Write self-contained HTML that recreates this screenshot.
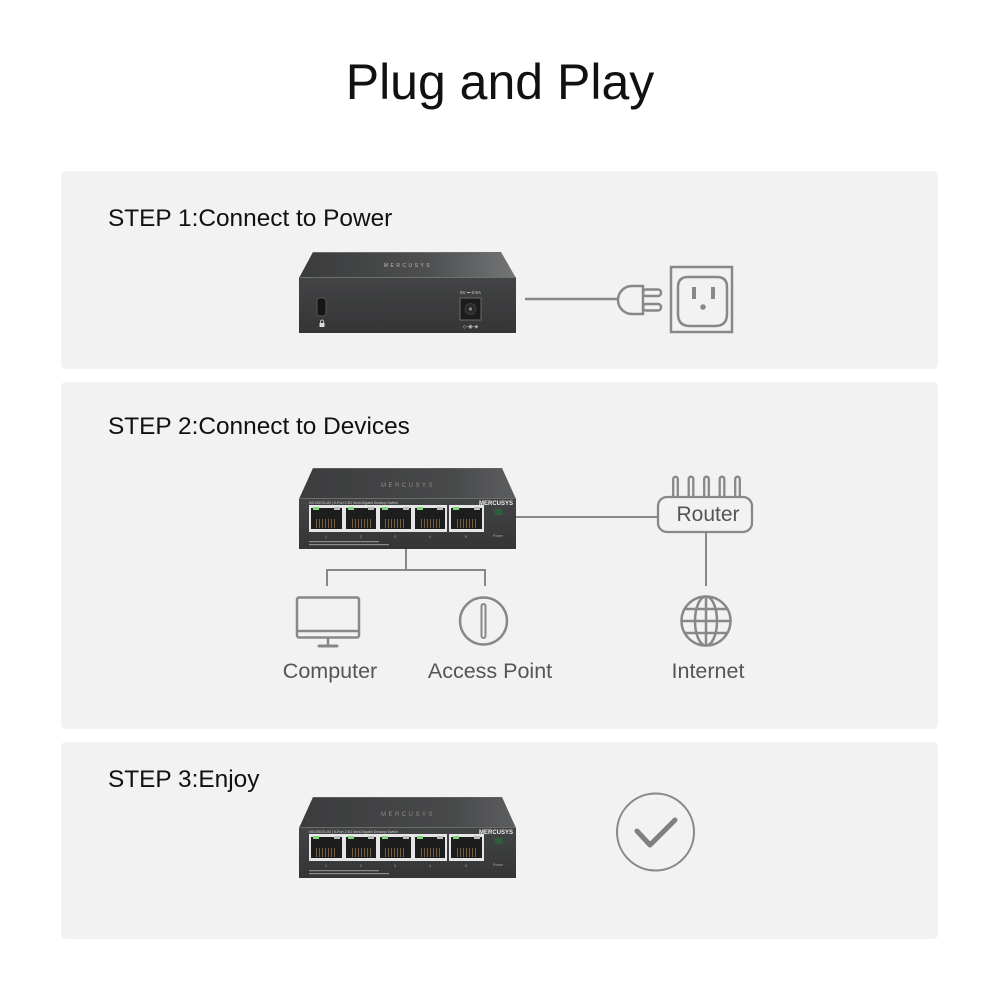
<!DOCTYPE html>
<html><head><meta charset="utf-8"><style>
html,body{margin:0;padding:0;background:#fff;}
svg{display:block;}
text{font-family:"Liberation Sans",Arial,sans-serif;}
</style></head><body>
<svg width="1000" height="1000" viewBox="0 0 1000 1000" xmlns="http://www.w3.org/2000/svg">
<defs>
<linearGradient id="topg" x1="0" y1="0" x2="1" y2="0">
<stop offset="0" stop-color="#3a3b3c"/><stop offset="0.6" stop-color="#4e4f50"/><stop offset="1" stop-color="#747576"/>
</linearGradient>
<linearGradient id="topf" x1="0" y1="0" x2="1" y2="0">
<stop offset="0" stop-color="#3b3c3d"/><stop offset="0.7" stop-color="#48494a"/><stop offset="1" stop-color="#5d5e5f"/>
</linearGradient>
<linearGradient id="frontg" x1="0" y1="0" x2="0" y2="1">
<stop offset="0" stop-color="#434445"/><stop offset="1" stop-color="#343536"/>
</linearGradient>
<pattern id="pins" x="0" y="0" width="3" height="10" patternUnits="userSpaceOnUse">
<rect x="0" y="0" width="3" height="10" fill="#1b1b1b"/><rect x="1" y="0" width="1" height="10" fill="#7a6040"/>
</pattern>
</defs>

<rect width="1000" height="1000" fill="#fff"/>
<text x="500" y="99" font-size="50" text-anchor="middle" fill="#111">Plug and Play</text>

<rect x="61" y="171" width="877" height="198" rx="5" fill="#f2f2f2"/>
<rect x="61" y="382" width="877" height="347" rx="5" fill="#f2f2f2"/>
<rect x="61" y="742" width="877" height="197" rx="5" fill="#f2f2f2"/>

<text x="108" y="226" font-size="24.4" fill="#111">STEP 1:Connect to Power</text>
<text x="108" y="434" font-size="24.4" fill="#111">STEP 2:Connect to Devices</text>
<text x="108" y="787" font-size="24.4" fill="#111">STEP 3:Enjoy</text>

<!-- STEP 1 rear switch -->
<polygon points="313,252 501,252 516,278 299,278" fill="url(#topg)"/>
<line x1="313" y1="252.5" x2="501" y2="252.5" stroke="#6a6b6c" stroke-width="1"/>
<line x1="299" y1="277.5" x2="516" y2="277.5" stroke="#6f7071" stroke-width="1"/>
<text x="408" y="267" font-size="5" fill="#bdbdbd" text-anchor="middle" letter-spacing="2.5">MERCUSYS</text>
<rect x="299" y="278" width="217" height="55" fill="url(#frontg)"/>
<rect x="317" y="298" width="9" height="18" rx="3" fill="#151515" stroke="#555" stroke-width="1"/>
<rect x="319.5" y="323" width="5" height="4" fill="#ddd"/>
<path d="M320.5 323 v-1.5 a1.5 1.5 0 0 1 3 0 v1.5" fill="none" stroke="#ddd" stroke-width="0.8"/>
<text x="470.5" y="294" font-size="4.5" fill="#d0d0d0" text-anchor="middle">5V ⎓ 0.6A</text>
<rect x="460" y="298" width="21" height="22" fill="#1c1c1c" stroke="#6a6a6a" stroke-width="1"/>
<circle cx="470.5" cy="309" r="5.5" fill="#2a2a2a" stroke="#3d3d3d" stroke-width="1"/>
<circle cx="470.5" cy="309" r="1.6" fill="#888"/>
<text x="470.5" y="328" font-size="5" fill="#d0d0d0" text-anchor="middle">◇-◉-◈</text>

<!-- cable, plug, outlet -->
<g fill="none" stroke="#888" stroke-width="2.5">
<line x1="525" y1="299" x2="619" y2="299"/>
<path d="M643 286 L632 286 A14 14 0 0 0 632 314 L643 314 Z" fill="#f2f2f2"/>
<rect x="643" y="289.5" width="18" height="6.5" rx="3"/>
<rect x="643" y="304" width="18" height="6.5" rx="3"/>
<rect x="671" y="267" width="61" height="65"/>
<path d="M688 277 L717 277 Q727 277 727 287 L727 314 Q727 326 715 326 L690 326 Q678 326 678 314 L678 287 Q678 277 688 277 Z"/>
</g>
<line x1="694" y1="287" x2="694" y2="299" stroke="#888" stroke-width="4"/>
<line x1="713" y1="287" x2="713" y2="299" stroke="#888" stroke-width="4"/>
<circle cx="703" cy="307" r="2.8" fill="#888"/>

<!-- STEP 2 switch front -->
<g>
<polygon points="313,468 502,468 516,499 299,499" fill="url(#topf)"/>
<line x1="313" y1="468.5" x2="502" y2="468.5" stroke="#5d5e5f" stroke-width="1"/>
<text x="408" y="487" font-size="6" fill="#8c8c8c" text-anchor="middle" letter-spacing="2.5">MERCUSYS</text>
<line x1="299" y1="498.5" x2="516" y2="498.5" stroke="#6a6b6c" stroke-width="1"/>
<rect x="299" y="499" width="217" height="50" fill="url(#frontg)"/>
<text x="309" y="504" font-size="3.5" fill="#ccc">MS105GS-M2 | 5-Port 2.5G Multi-Gigabit Desktop Switch</text>
<text x="513" y="505" font-size="6" font-weight="bold" fill="#eee" text-anchor="end">MERCUSYS</text>
<g>
<rect x="309" y="505" width="35" height="27" fill="#e6e6e6"/><rect x="311" y="508" width="31" height="21" fill="#1d1d1d"/><rect x="316" y="519" width="21" height="9" fill="url(#pins)"/><rect x="313" y="507" width="6" height="3" fill="#7fd67f"/><rect x="334" y="507" width="6" height="3" fill="#bbb"/>
<rect x="344" y="505" width="34" height="27" fill="#e6e6e6"/><rect x="346" y="508" width="30" height="21" fill="#1d1d1d"/><rect x="351" y="519" width="21" height="9" fill="url(#pins)"/><rect x="348" y="507" width="6" height="3" fill="#7fd67f"/><rect x="368" y="507" width="6" height="3" fill="#bbb"/>
<rect x="378" y="505" width="35" height="27" fill="#e6e6e6"/><rect x="380" y="508" width="31" height="21" fill="#1d1d1d"/><rect x="385" y="519" width="21" height="9" fill="url(#pins)"/><rect x="382" y="507" width="6" height="3" fill="#7fd67f"/><rect x="403" y="507" width="6" height="3" fill="#bbb"/>
<rect x="413" y="505" width="34" height="27" fill="#e6e6e6"/><rect x="415" y="508" width="30" height="21" fill="#1d1d1d"/><rect x="420" y="519" width="21" height="9" fill="url(#pins)"/><rect x="417" y="507" width="6" height="3" fill="#7fd67f"/><rect x="437" y="507" width="6" height="3" fill="#bbb"/>
<rect x="449" y="505" width="35" height="27" fill="#e6e6e6"/><rect x="451" y="508" width="31" height="21" fill="#1d1d1d"/><rect x="456" y="519" width="21" height="9" fill="url(#pins)"/><rect x="453" y="507" width="6" height="3" fill="#7fd67f"/><rect x="474" y="507" width="6" height="3" fill="#bbb"/>
</g>
<g font-size="3.5" fill="#aaa" text-anchor="middle">
<text x="326" y="538">1</text><text x="361" y="538">2</text><text x="395" y="538">3</text><text x="430" y="538">4</text><text x="466" y="538">5</text>
<text x="498" y="537">Power</text>
</g>
<rect x="494.5" y="509" width="8" height="6" fill="#2f5e3c"/>
<rect x="309" y="541" width="70" height="1.2" fill="#8a8a8a"/>
<rect x="309" y="544" width="80" height="1.2" fill="#8a8a8a"/>
</g>

<!-- STEP 2 connectors -->
<g fill="none" stroke="#888" stroke-width="2">
<line x1="516" y1="517" x2="658" y2="517"/>
<line x1="706" y1="533" x2="706" y2="586"/>
<line x1="406" y1="549" x2="406" y2="570"/>
<line x1="327" y1="570" x2="485" y2="570"/>
<line x1="327" y1="569" x2="327" y2="586"/>
<line x1="485" y1="569" x2="485" y2="586"/>
</g>
<!-- router -->
<g fill="none" stroke="#888" stroke-width="2.3">
<path d="M673.2 497 V479 a2.3 2.3 0 0 1 4.6 0 V497"/>
<path d="M688.7 497 V479 a2.3 2.3 0 0 1 4.6 0 V497"/>
<path d="M704.2 497 V479 a2.3 2.3 0 0 1 4.6 0 V497"/>
<path d="M719.7 497 V479 a2.3 2.3 0 0 1 4.6 0 V497"/>
<path d="M735.2 497 V479 a2.3 2.3 0 0 1 4.6 0 V497"/>
<rect x="658" y="497" width="94" height="35" rx="9" fill="#f2f2f2"/>
</g>
<text x="708" y="521" font-size="21" fill="#555" text-anchor="middle">Router</text>

<!-- computer -->
<g fill="none" stroke="#888" stroke-width="2.5">
<rect x="297" y="597.5" width="62" height="40" rx="2"/>
<line x1="297" y1="631" x2="359" y2="631"/>
<line x1="328" y1="637" x2="328" y2="646"/>
<line x1="319" y1="646" x2="337" y2="646" stroke-linecap="round" stroke-width="3"/>
</g>
<!-- access point -->
<g fill="none" stroke="#888" stroke-width="2.5">
<circle cx="483.5" cy="621" r="23.5"/>
<rect x="481.5" y="604" width="4" height="34" rx="2" stroke-width="2"/>
</g>
<!-- globe -->
<g fill="none" stroke="#888" stroke-width="2.5">
<circle cx="706" cy="621" r="24.5"/>
<ellipse cx="706" cy="621" rx="11" ry="24.5"/>
<line x1="706" y1="596.5" x2="706" y2="645.5"/>
<line x1="681.5" y1="621" x2="730.5" y2="621"/>
<line x1="685" y1="609" x2="727" y2="609"/>
<line x1="685" y1="633" x2="727" y2="633"/>
</g>
<g font-size="21.5" fill="#555" text-anchor="middle">
<text x="330" y="678">Computer</text>
<text x="490" y="678">Access Point</text>
<text x="708" y="678">Internet</text>
</g>

<!-- STEP 3 switch front -->
<g transform="translate(0,329)">
<polygon points="313,468 502,468 516,499 299,499" fill="url(#topf)"/>
<line x1="313" y1="468.5" x2="502" y2="468.5" stroke="#5d5e5f" stroke-width="1"/>
<text x="408" y="487" font-size="6" fill="#8c8c8c" text-anchor="middle" letter-spacing="2.5">MERCUSYS</text>
<line x1="299" y1="498.5" x2="516" y2="498.5" stroke="#6a6b6c" stroke-width="1"/>
<rect x="299" y="499" width="217" height="50" fill="url(#frontg)"/>
<text x="309" y="504" font-size="3.5" fill="#ccc">MS105GS-M2 | 5-Port 2.5G Multi-Gigabit Desktop Switch</text>
<text x="513" y="505" font-size="6" font-weight="bold" fill="#eee" text-anchor="end">MERCUSYS</text>
<g>
<rect x="309" y="505" width="35" height="27" fill="#e6e6e6"/><rect x="311" y="508" width="31" height="21" fill="#1d1d1d"/><rect x="316" y="519" width="21" height="9" fill="url(#pins)"/><rect x="313" y="507" width="6" height="3" fill="#7fd67f"/><rect x="334" y="507" width="6" height="3" fill="#bbb"/>
<rect x="344" y="505" width="34" height="27" fill="#e6e6e6"/><rect x="346" y="508" width="30" height="21" fill="#1d1d1d"/><rect x="351" y="519" width="21" height="9" fill="url(#pins)"/><rect x="348" y="507" width="6" height="3" fill="#7fd67f"/><rect x="368" y="507" width="6" height="3" fill="#bbb"/>
<rect x="378" y="505" width="35" height="27" fill="#e6e6e6"/><rect x="380" y="508" width="31" height="21" fill="#1d1d1d"/><rect x="385" y="519" width="21" height="9" fill="url(#pins)"/><rect x="382" y="507" width="6" height="3" fill="#7fd67f"/><rect x="403" y="507" width="6" height="3" fill="#bbb"/>
<rect x="413" y="505" width="34" height="27" fill="#e6e6e6"/><rect x="415" y="508" width="30" height="21" fill="#1d1d1d"/><rect x="420" y="519" width="21" height="9" fill="url(#pins)"/><rect x="417" y="507" width="6" height="3" fill="#7fd67f"/><rect x="437" y="507" width="6" height="3" fill="#bbb"/>
<rect x="449" y="505" width="35" height="27" fill="#e6e6e6"/><rect x="451" y="508" width="31" height="21" fill="#1d1d1d"/><rect x="456" y="519" width="21" height="9" fill="url(#pins)"/><rect x="453" y="507" width="6" height="3" fill="#7fd67f"/><rect x="474" y="507" width="6" height="3" fill="#bbb"/>
</g>
<g font-size="3.5" fill="#aaa" text-anchor="middle">
<text x="326" y="538">1</text><text x="361" y="538">2</text><text x="395" y="538">3</text><text x="430" y="538">4</text><text x="466" y="538">5</text>
<text x="498" y="537">Power</text>
</g>
<rect x="494.5" y="509" width="8" height="6" fill="#2f5e3c"/>
<rect x="309" y="541" width="70" height="1.2" fill="#8a8a8a"/>
<rect x="309" y="544" width="80" height="1.2" fill="#8a8a8a"/>
</g>

<!-- check -->
<circle cx="655.5" cy="832" r="38.5" fill="none" stroke="#888" stroke-width="2"/>
<path d="M637 831 L650 845 L675 820" fill="none" stroke="#808080" stroke-width="5" stroke-linecap="round" stroke-linejoin="round"/>
</svg>
</body></html>
